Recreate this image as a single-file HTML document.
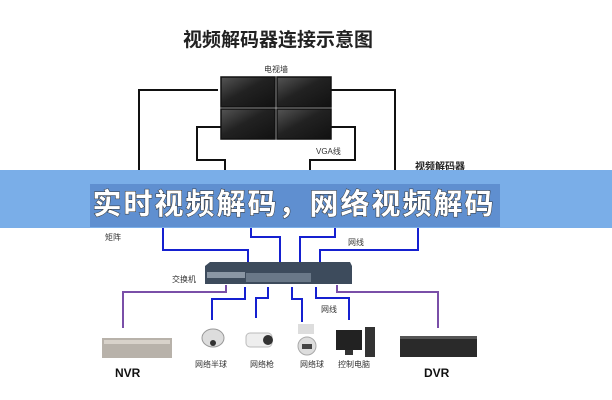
<!DOCTYPE html>
<html><head><meta charset="utf-8"><style>
body{margin:0;width:612px;height:400px;background:#fff;overflow:hidden;font-family:"Liberation Sans","Noto Sans CJK SC",sans-serif}
</style></head><body>
<svg width="612" height="400" xmlns="http://www.w3.org/2000/svg" style="position:absolute;left:0;top:0">
<defs><linearGradient id="scr" x1="0" y1="0" x2="1" y2="1"><stop offset="0" stop-color="#555"/><stop offset="0.45" stop-color="#222"/><stop offset="1" stop-color="#111"/></linearGradient></defs>
<text x="278" y="46" text-anchor="middle" font-size="19" font-weight="bold" fill="#222" font-family="Noto Sans CJK SC,sans-serif">视频解码器连接示意图</text>
<text x="276" y="72" text-anchor="middle" font-size="8" fill="#333" font-family="Noto Sans CJK SC,sans-serif">电视墙</text>
<g fill="none" stroke="#111" stroke-width="2">
<path d="M218 90 H139 V185"/><path d="M331 90 H395 V185"/>
<path d="M221 127 H197 V160 H225 V185"/><path d="M331 127 H355 V160 H310 V185"/>
</g>
<g stroke="#111" stroke-width="1.5" fill="url(#scr)">
<rect x="221" y="77" width="54" height="30"/><rect x="277" y="77" width="54" height="30"/>
<rect x="221" y="109" width="54" height="30"/><rect x="277" y="109" width="54" height="30"/>
</g>
<text x="316" y="154" font-size="8" fill="#333">VGA线</text>
<text x="415" y="170" font-size="10" font-weight="bold" fill="#222" font-family="Noto Sans CJK SC,sans-serif">视频解码器</text>
<rect x="0" y="170" width="612" height="58" fill="#7aaee8"/>
<rect x="90" y="184" width="410" height="43" fill="#5f8fd0"/>
<text x="105" y="240" font-size="8" fill="#333" font-family="Noto Sans CJK SC,sans-serif">矩阵</text>
<g fill="none" stroke="#1520d0" stroke-width="2">
<path d="M163 228 V250 H248 V262"/><path d="M251 228 V237 H280 V262"/>
<path d="M335 228 V237 H300 V262"/><path d="M418 228 V250 H320 V262"/>
<path d="M245 287 V299 H212 V320"/><path d="M268 287 V298 H256 V318"/>
<path d="M292 287 V299 H302 V322"/><path d="M316 287 V298 H349 V320"/>
</g>
<text x="348" y="245" font-size="8" fill="#333" font-family="Noto Sans CJK SC,sans-serif">网线</text>
<g fill="none" stroke="#7a4fa8" stroke-width="2">
<path d="M226 285 V292 H123 V328"/><path d="M337 285 V292 H438 V328"/>
</g>
<polygon points="210,262 350,262 352,266 352,284 205,284 205,266" fill="#3d4b5c"/>
<rect x="246" y="273" width="65" height="9" fill="#6a7888"/>
<rect x="207" y="272" width="38" height="6" fill="#8a96a4"/>
<text x="172" y="282" font-size="8" fill="#333" font-family="Noto Sans CJK SC,sans-serif">交换机</text>
<text x="321" y="312" font-size="8" fill="#333" font-family="Noto Sans CJK SC,sans-serif">网线</text>
<rect x="102" y="338" width="70" height="20" fill="#b8b2aa"/><rect x="104" y="340" width="66" height="4" fill="#d8d2ca"/>
<ellipse cx="213" cy="338" rx="11" ry="9" fill="#ddd" stroke="#999"/><circle cx="213" cy="343" r="3" fill="#333"/>
<rect x="246" y="333" width="26" height="14" rx="4" fill="#eee" stroke="#bbb"/><circle cx="268" cy="340" r="5" fill="#333"/>
<rect x="298" y="324" width="16" height="10" fill="#ddd"/><circle cx="307" cy="346" r="9" fill="#ddd" stroke="#aaa"/><rect x="302" y="344" width="10" height="5" fill="#444"/>
<rect x="336" y="330" width="26" height="20" fill="#222"/><rect x="345" y="350" width="8" height="5" fill="#333"/><rect x="365" y="327" width="10" height="30" fill="#333"/>
<rect x="400" y="336" width="77" height="21" fill="#2a2a2a"/><rect x="400" y="336" width="77" height="3" fill="#555"/>
<g font-size="8" fill="#333" font-family="Noto Sans CJK SC,sans-serif">
<text x="195" y="367">网络半球</text><text x="250" y="367">网络枪</text><text x="300" y="367">网络球</text><text x="338" y="367">控制电脑</text>
</g>
<text x="115" y="377" font-size="12" font-weight="bold" fill="#111">NVR</text>
<text x="424" y="377" font-size="12" font-weight="bold" fill="#111">DVR</text>
<text x="294" y="214" text-anchor="middle" font-size="29" font-weight="bold" fill="#fff" letter-spacing="2" stroke="#333" stroke-width="1" paint-order="stroke" font-family="Noto Sans CJK SC,sans-serif">实时视频解码，网络视频解码</text>
</svg>
</body></html>
